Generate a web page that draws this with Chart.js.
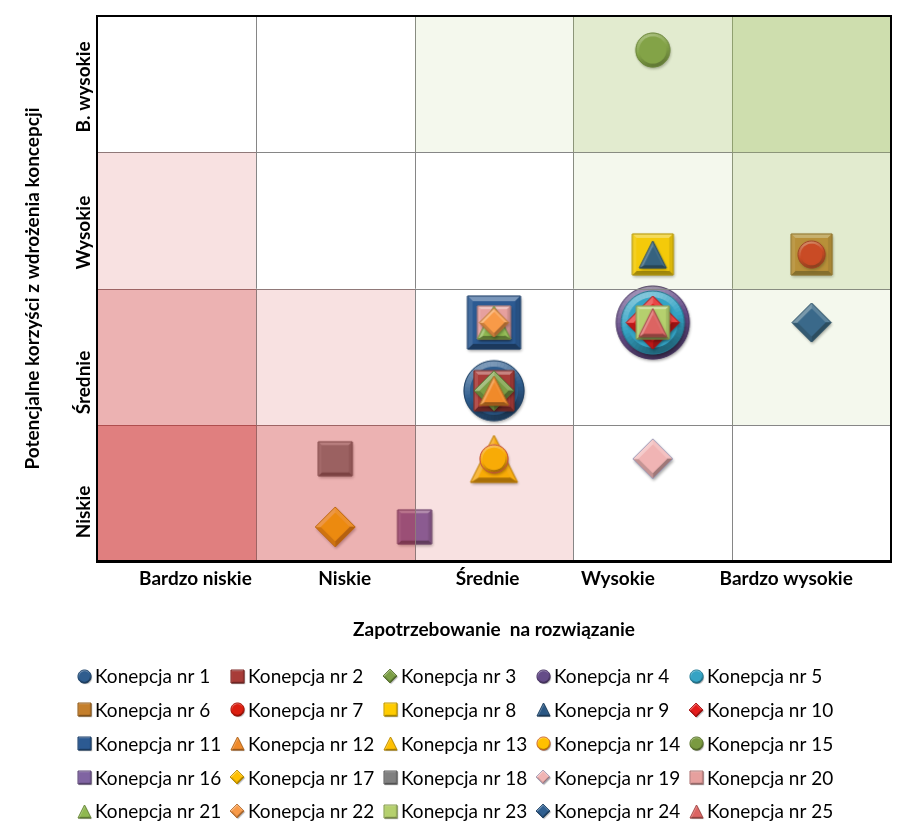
<!DOCTYPE html>
<html>
<head>
<meta charset="utf-8">
<script src="https://cdn.jsdelivr.net/npm/chart.js@4.4.1/dist/chart.umd.min.js"></script>
<style>
  html, body { margin: 0; padding: 0; background: #fff; }
  #wrap { width: 906px; height: 834px; }
</style>
</head>
<body>
<div id="wrap"><canvas id="matrixChart"></canvas></div>
<script>
// --- data ---
const concepts = [
  'Konepcja nr 1', 'Konepcja nr 2', 'Konepcja nr 3', 'Konepcja nr 4', 'Konepcja nr 5',
  'Konepcja nr 6', 'Konepcja nr 7', 'Konepcja nr 8', 'Konepcja nr 9', 'Konepcja nr 10',
  'Konepcja nr 11', 'Konepcja nr 12', 'Konepcja nr 13', 'Konepcja nr 14', 'Konepcja nr 15',
  'Konepcja nr 16', 'Konepcja nr 17', 'Konepcja nr 18', 'Konepcja nr 19', 'Konepcja nr 20',
  'Konepcja nr 21', 'Konepcja nr 22', 'Konepcja nr 23', 'Konepcja nr 24', 'Konepcja nr 25'
];
// Zapotrzebowanie (x) and potencjalne korzyści (y)
const demand  = [3, 3, 3, 4, 4, 5, 5, 4, 4, 4, 3, 3, 3, 3, 4, 2.5, 2, 2, 4, 3, 3, 3, 4, 5, 4];
const benefit = [1.75, 1.75, 1.75, 2.25, 2.25, 2.75, 2.75, 2.75, 2.75, 2.25, 2.25, 1.75, 1.25, 1.25, 4.25,
                 0.75, 0.75, 1.25, 1.25, 2.25, 2.25, 2.25, 2.25, 2.25, 2.25];
const xLabels = ['Bardzo niskie', 'Niskie', 'Średnie', 'Wysokie', 'Bardzo wysokie'];
const yLabels = ['Niskie', 'Średnie', 'Wysokie', 'B. wysokie'];
// background cells, rows from "Niskie" up; negative = red zone, positive = green zone
const cellLevels = [
  [-3, -2, -1, 0, 0],
  [-2, -1, 0, 0, 1],
  [-1, 0, 0, 1, 2],
  [0, 0, 1, 2, 3]
];

// --- styles ---
const markerShape = ['circle', 'square', 'diamond', 'circle', 'circle', 'square', 'circle', 'square', 'triangle', 'diamond',
  'square', 'triangle', 'triangle', 'circle', 'circle', 'square', 'diamond', 'square', 'diamond', 'square',
  'triangle', 'diamond', 'square', 'diamond', 'triangle'];
const markerSize = [60, 40, 40, 73, 63, 41, 27, 41, 27, 53, 53, 29, 47, 28, 34, 34, 40, 34, 40, 33, 33, 29, 33, 39, 28];
const markerColor = ['#2f5d8e', '#a83c38', '#7b9e45', '#654c88', '#35a3c4', '#c47f2c', '#dc1e10', '#ffcc00', '#2a5784', '#e41c1c',
  '#2c5a92', '#f08a2a', '#ffc000', '#ffc000', '#7a9a40', '#8064a2', '#ffc000', '#808080', '#f0b4b4', '#e6a09e',
  '#8fb850', '#f89a48', '#b5d06e', '#2f5f90', '#dc6462'];
const markerEdge = {13: '#c0504d', 18: '#9a9ab8'};
const xTickPos = [1.12, 2.06, 2.96, 3.78, 4.84];
const yTickPos = [0.86, 1.81, 2.91, 3.98];

function hexRgb(h) { const n = parseInt(h.slice(1), 16); return [n >> 16 & 255, n >> 8 & 255, n & 255]; }
function shade(h, t) {
  const f = t >= 0 ? v => v + (255 - v) * t : v => v * (1 + t);
  return 'rgb(' + hexRgb(h).map(v => Math.round(f(v))).join(',') + ')';
}

function shapeVerts(shape, s, cx, cy) {
  const r = s / 2;
  if (shape === 'circle') {
    const v = [];
    for (let k = 0; k < 48; k++) { const a = k / 48 * 2 * Math.PI; v.push([cx + r * Math.cos(a), cy + r * Math.sin(a)]); }
    return v;
  }
  if (shape === 'square') return [[cx - r, cy - r], [cx + r, cy - r], [cx + r, cy + r], [cx - r, cy + r]];
  if (shape === 'diamond') return [[cx, cy - r], [cx + r, cy], [cx, cy + r], [cx - r, cy]];
  return [[cx, cy - r], [cx + r, cy + r], [cx - r, cy + r]];
}

function tracePath(g, v) {
  g.beginPath();
  g.moveTo(v[0][0], v[0][1]);
  for (let i = 1; i < v.length; i++) g.lineTo(v[i][0], v[i][1]);
  g.closePath();
}

// bevelled marker (like the Office "soft bevel" markers)
function makeMarker(shape, s, color, edge, small) {
  const pad = small ? 2 : 5;
  const c = document.createElement('canvas');
  c.width = Math.ceil(s) + 2 * pad;
  c.height = Math.ceil(s) + 2 * pad;
  const g = c.getContext('2d');
  const cx = c.width / 2, cy = c.height / 2;
  const v = shapeVerts(shape, s, cx, cy);
  const n = v.length;

  g.save();
  g.shadowColor = 'rgba(0,0,0,0.35)';
  g.shadowBlur = small ? 1 : 3;
  g.shadowOffsetX = 1;
  g.shadowOffsetY = small ? 1 : 2;
  tracePath(g, v);
  g.fillStyle = color;
  g.fill();
  g.restore();

  // incentre and inradius
  let inc = [cx, cy];
  if (shape === 'triangle') {
    const side = (p, q) => Math.hypot(p[0] - q[0], p[1] - q[1]);
    const a = side(v[1], v[2]), b = side(v[0], v[2]), cc = side(v[0], v[1]);
    const sum = a + b + cc;
    inc = [(a * v[0][0] + b * v[1][0] + cc * v[2][0]) / sum, (a * v[0][1] + b * v[1][1] + cc * v[2][1]) / sum];
  }
  const ex = v[1][0] - v[0][0], ey = v[1][1] - v[0][1];
  const inr = Math.abs(ex * (inc[1] - v[0][1]) - ey * (inc[0] - v[0][0])) / Math.hypot(ex, ey);
  const bw = Math.max(1.1, s * 0.1);
  const k = 1 - bw / inr;
  const inner = v.map(p => [inc[0] + (p[0] - inc[0]) * k, inc[1] + (p[1] - inc[1]) * k]);

  const L = [-0.29, -0.96];
  for (let i = 0; i < n; i++) {
    const a = v[i], b = v[(i + 1) % n], cI = inner[(i + 1) % n], dI = inner[i];
    const dx = b[0] - a[0], dy = b[1] - a[1], len = Math.hypot(dx, dy);
    const t = (dy / len) * L[0] + (-dx / len) * L[1];
    const col = shade(color, 0.38 * t);
    g.beginPath();
    g.moveTo(a[0], a[1]); g.lineTo(b[0], b[1]); g.lineTo(cI[0], cI[1]); g.lineTo(dI[0], dI[1]);
    g.closePath();
    g.fillStyle = col; g.fill();
    g.strokeStyle = col; g.lineWidth = 0.6; g.stroke();
  }
  tracePath(g, inner);
  g.fillStyle = color;
  g.fill();

  tracePath(g, v);
  g.strokeStyle = edge || shade(color, -0.3);
  g.lineWidth = small ? 0.8 : 1;
  g.stroke();
  return c;
}

const legendSize = {circle: 13, square: 13, diamond: 14, triangle: 13};
const chartMarkers = concepts.map((_, i) => makeMarker(markerShape[i], markerSize[i], markerColor[i], markerEdge[i], false));
const legendMarkers = concepts.map((_, i) => makeMarker(markerShape[i], legendSize[markerShape[i]], markerColor[i], markerEdge[i], true));

const labelFont = {family: 'Lato', size: 19, weight: 'bold'};
const mctx = document.createElement('canvas').getContext('2d');
mctx.font = 'normal bold 19px Lato';
const widestY = Math.max(...yLabels.map(t => mctx.measureText(t).width));

// cells and grid are laid over the markers (semi-transparent), as in the original
const cellOverlay = {
  id: 'cellOverlay',
  afterDatasetsDraw(chart) {
    const {ctx, chartArea: area, scales: {x, y}} = chart;
    ctx.save();
    ctx.strokeStyle = '#868686';
    ctx.lineWidth = 1;
    for (let b = 1.5; b < 5; b++) {
      const px = Math.round(x.getPixelForValue(b)) + 0.5;
      ctx.beginPath(); ctx.moveTo(px, area.top); ctx.lineTo(px, area.bottom); ctx.stroke();
    }
    for (let b = 1.5; b < 4; b++) {
      const py = Math.round(y.getPixelForValue(b)) + 0.5;
      ctx.beginPath(); ctx.moveTo(area.left, py); ctx.lineTo(area.right, py); ctx.stroke();
    }
    const redA = [0, 0.14, 0.36, 0.6], greenA = [0, 0.11, 0.29, 0.49];
    cellLevels.forEach((row, r) => row.forEach((lvl, c) => {
      if (!lvl) return;
      ctx.fillStyle = lvl < 0 ? `rgba(203,42,42,${redA[-lvl]})` : `rgba(155,187,89,${greenA[lvl]})`;
      const x0 = Math.round(x.getPixelForValue(c + 0.5)), x1 = Math.round(x.getPixelForValue(c + 1.5));
      const y0 = Math.round(y.getPixelForValue(r + 1.5)), y1 = Math.round(y.getPixelForValue(r + 0.5));
      ctx.fillRect(x0, y0, x1 - x0, y1 - y0);
    }));
    ctx.strokeStyle = '#000';
    ctx.lineWidth = 2;
    ctx.strokeRect(Math.round(area.left), Math.round(area.top), Math.round(area.right - area.left), Math.round(area.bottom - area.top));
    ctx.lineWidth = 3;
    ctx.beginPath(); ctx.moveTo(area.left - 1, Math.round(area.bottom) + 0.5); ctx.lineTo(area.right + 1, Math.round(area.bottom) + 0.5); ctx.stroke();
    ctx.restore();
  }
};

// legend laid out in 5 fixed columns
const gridLegend = {
  id: 'gridLegend',
  afterDraw(chart) {
    const ctx = chart.ctx;
    ctx.save();
    ctx.font = '19px Lato';
    ctx.fillStyle = '#000';
    ctx.textBaseline = 'middle';
    ctx.textAlign = 'left';
    chart.data.datasets.forEach((ds, i) => {
      const cx = 84 + (i % 5) * 153;
      const cy = 676 + Math.floor(i / 5) * 33.8;
      const ic = legendMarkers[i];
      ctx.drawImage(ic, Math.round(cx - ic.width / 2), Math.round(cy - ic.height / 2));
      ctx.fillText(ds.label, cx + 11, cy + 1);
    });
    ctx.restore();
  }
};

const datasets = concepts.map((name, i) => ({
  label: name,
  data: [{x: demand[i], y: benefit[i]}],
  pointStyle: chartMarkers[i],
  order: concepts.length - 1 - i
}));

new Chart(document.getElementById('matrixChart'), {
  type: 'scatter',
  data: {datasets},
  plugins: [cellOverlay, gridLegend],
  options: {
    responsive: true,
    maintainAspectRatio: false,
    animation: false,
    events: [],
    layout: {padding: {top: 16, right: 15, bottom: 190, left: 0}},
    plugins: {legend: {display: false}, tooltip: {enabled: false}},
    scales: {
      x: {
        type: 'linear', min: 0.5, max: 5.5,
        grid: {display: false, drawTicks: false},
        border: {display: false},
        afterBuildTicks: s => { s.ticks = xTickPos.map(v => ({value: v})); },
        afterFit: s => { s.height = 83; },
        ticks: {
          autoSkip: false, maxRotation: 0, minRotation: 0, padding: 6,
          color: '#000', font: labelFont,
          callback: (v, i) => xLabels[i]
        },
        title: {
          display: true, text: 'Zapotrzebowanie  na rozwiązanie', color: '#000',
          font: labelFont, padding: {top: 0, bottom: 3}
        }
      },
      y: {
        type: 'linear', min: 0.5, max: 4.5,
        grid: {display: false, drawTicks: false},
        border: {display: false},
        afterBuildTicks: s => { s.ticks = yTickPos.map(v => ({value: v})); },
        afterFit: s => { s.width = 97; },
        ticks: {
          autoSkip: false, minRotation: 90, maxRotation: 90, crossAlign: 'center',
          padding: 97 - 84 - widestY / 2,
          color: '#000', font: labelFont,
          callback: (v, i) => yLabels[i]
        },
        title: {
          display: true, text: 'Potencjalne korzyści z wdrożenia koncepcji', color: '#000',
          font: labelFont, padding: {top: 21, bottom: 0}
        }
      }
    }
  }
});
</script>
</body>
</html>
